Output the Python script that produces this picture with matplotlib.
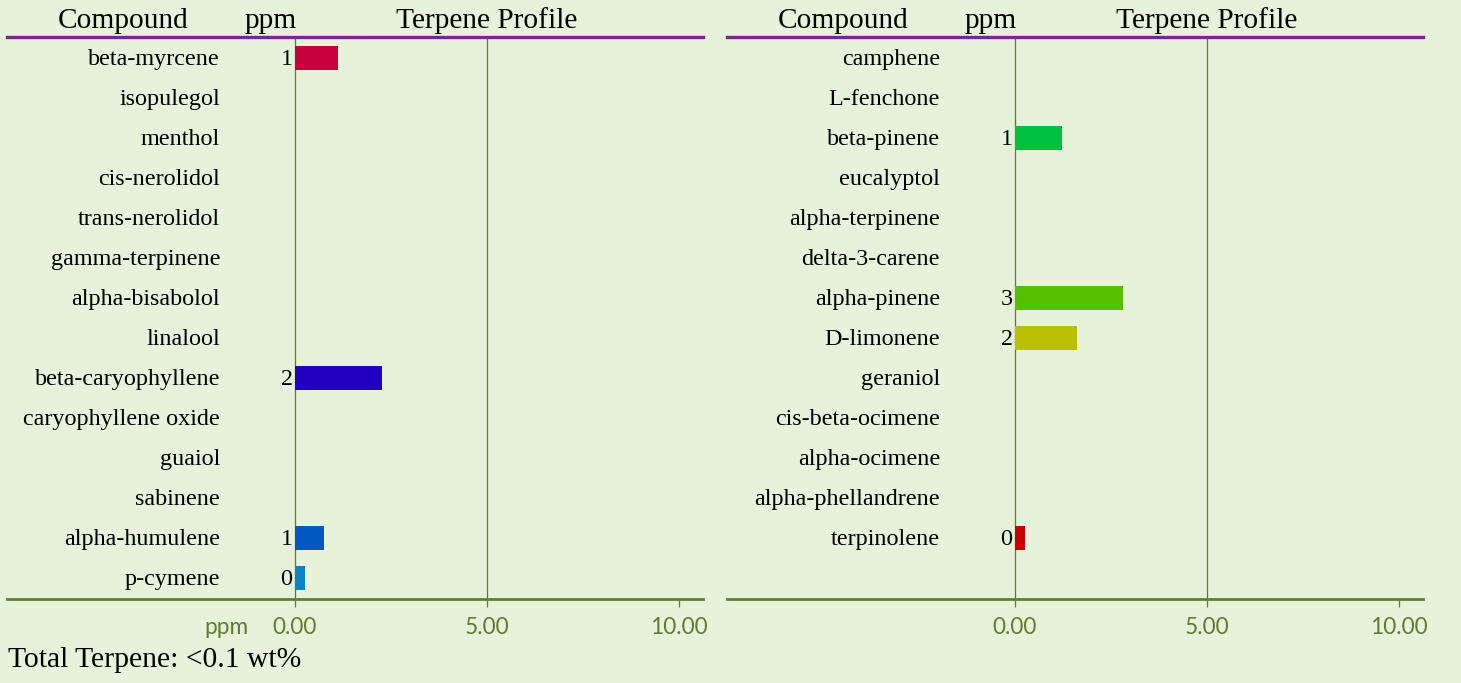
import matplotlib
matplotlib.use("Agg")
import matplotlib.pyplot as plt

# left panel
left_names = ["beta-myrcene", "isopulegol", "menthol", "cis-nerolidol", "trans-nerolidol",
              "gamma-terpinene", "alpha-bisabolol", "linalool", "beta-caryophyllene",
              "caryophyllene oxide", "guaiol", "sabinene", "alpha-humulene", "p-cymene"]
left_ppm = [1.12, 0, 0, 0, 0, 0, 0, 0, 2.27, 0, 0, 0, 0.76, 0.26]
left_colors = ["#c8003c", None, None, None, None, None, None, None, "#2200c0",
               None, None, None, "#0058c0", "#0a86c8"]

# right panel
right_names = ["camphene", "L-fenchone", "beta-pinene", "eucalyptol", "alpha-terpinene",
               "delta-3-carene", "alpha-pinene", "D-limonene", "geraniol", "cis-beta-ocimene",
               "alpha-ocimene", "alpha-phellandrene", "terpinolene"]
right_ppm = [0, 0, 1.22, 0, 0, 0, 2.81, 1.61, 0, 0, 0, 0, 0.26]
right_colors = [None, None, "#00c040", None, None, None, "#55c000", "#b8c000",
                None, None, None, None, "#c80000"]

xticks = [0, 5, 10]
total_text = "Total Terpene: <0.1 wt%"

BG = "#e6f2da"
GREEN = "#5f7d30"
PURPLE = "#772a85"
SERIF = "Liberation Serif"


def panel(ax, names, vals, colors, show_ppm):
    ax.set_facecolor("none")
    ax.set_xlim(-7.5, 10.63)
    ax.set_ylim(13.525, -0.525)
    for i, (n, v, c) in enumerate(zip(names, vals, colors)):
        ax.text(-1.95, i + 0.04, n, ha="right", va="center", fontsize=17.4, family=SERIF)
        if v > 0:
            ax.barh(i, v, height=0.58, color=c, zorder=3)
            ax.text(-0.06, i + 0.04, "%.0f" % v, ha="right", va="center", fontsize=17.4,
                    family=SERIF)
    for t in xticks[:-1]:
        ax.axvline(t, color=GREEN, lw=0.9, zorder=2)
    for s in ["left", "right"]:
        ax.spines[s].set_visible(False)
    ax.spines["top"].set_color(PURPLE)
    ax.spines["top"].set_linewidth(2.4)
    ax.spines["bottom"].set_color(GREEN)
    ax.spines["bottom"].set_linewidth(2.0)
    ax.set_yticks([])
    ax.set_xticks(xticks)
    ax.set_xticklabels(["%.2f" % t for t in xticks])
    ax.tick_params(axis="x", length=6, width=0.9, color=GREEN, labelcolor=GREEN,
                   labelsize=16.3, pad=7)
    for lab in ax.get_xticklabels():
        lab.set_family("Lato")
    # headers
    ax.text(-4.48, -0.6, "Compound", ha="center", va="bottom", fontsize=21.2, family=SERIF)
    ax.text(-0.63, -0.6, "ppm", ha="center", va="bottom", fontsize=21.2, family=SERIF)
    ax.text(5, -0.6, "Terpene Profile", ha="center", va="bottom", fontsize=21.2, family=SERIF)
    if show_ppm:
        ax.text(-1.2, 14.24, "ppm", ha="right", va="center", fontsize=16.3, family="Lato",
                color=GREEN)


fig = plt.figure(figsize=(14.61, 6.83), dpi=100, facecolor=BG)
H = 683.0
W = 1461.0
ax1 = fig.add_axes([7 / W, 1 - 599 / H, 696 / W, 562 / H])
ax2 = fig.add_axes([727 / W, 1 - 599 / H, 696 / W, 562 / H])
panel(ax1, left_names, left_ppm, left_colors, True)
panel(ax2, right_names, right_ppm, right_colors, False)

fig.text(8 / W, 1 - 660 / H, total_text, ha="left", va="center", fontsize=21.3, family=SERIF)

fig.savefig("out.png", dpi=100, facecolor=BG)
